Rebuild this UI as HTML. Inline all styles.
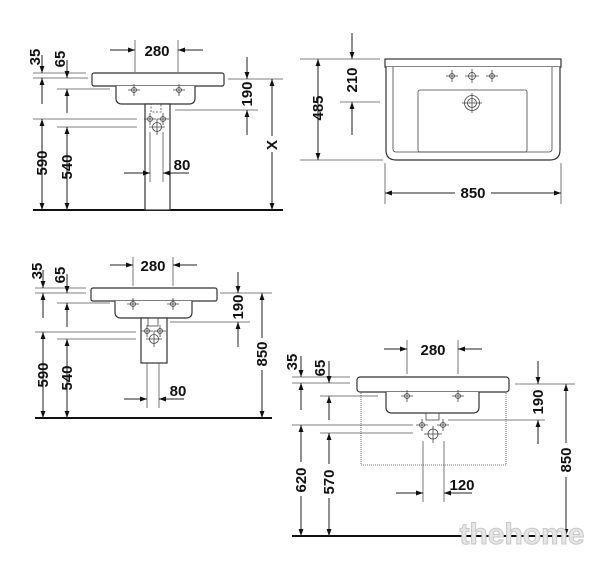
<!DOCTYPE html>
<html><head><meta charset="utf-8"><style>
html,body{margin:0;padding:0;background:#fff}
svg{display:block}
text{font-family:"Liberation Sans Narrow","Liberation Sans",sans-serif;font-weight:bold;font-size:15px;fill:#111}
.d{stroke:#222;stroke-width:1;fill:none}
.e{stroke:#555;stroke-width:0.8;fill:none}
.o{stroke:#333;stroke-width:1.2;fill:#fff}
.f{stroke:#111;stroke-width:2}
.t{stroke:#444;stroke-width:0.8;fill:none}
</style></head><body>
<svg width="600" height="564" viewBox="0 0 600 564" xmlns="http://www.w3.org/2000/svg">
<defs>
<marker id="a" viewBox="0 0 10 10" refX="10" refY="5" markerWidth="7" markerHeight="7" orient="auto-start-reverse" markerUnits="userSpaceOnUse"><path d="M0,1.5L10,5L0,8.5z" fill="#111"/></marker>
<g id="tap"><circle r="2.5" class="t"/><path d="M-6,0H6M0,-6V6" class="t"/></g>
</defs>

<!-- ===== Drawing 1 ===== -->
<line x1="33" y1="210" x2="283" y2="210" class="f"/>
<rect x="92" y="73" width="132" height="13" rx="2" class="o"/>
<path d="M116,86 V98 Q116,104 122,104 H189 Q195,104 195,98 V86" class="o"/>
<rect x="145" y="104" width="25" height="106" class="o" stroke-width="1"/>
<rect x="151" y="104" width="10" height="8" class="t" stroke-dasharray="2,1.5"/>
<use href="#tap" x="150" y="119"/><use href="#tap" x="163" y="119"/>
<circle cx="157" cy="127" r="4.5" class="t"/><path d="M149,127H165M157,119V135" class="t"/>
<use href="#tap" x="134" y="90"/><use href="#tap" x="179" y="90"/>
<line x1="135" y1="40" x2="135" y2="72" class="e"/><line x1="178" y1="40" x2="178" y2="72" class="e"/>
<line x1="110" y1="50" x2="135" y2="50" class="d" marker-end="url(#a)"/>
<line x1="203" y1="50" x2="178" y2="50" class="d" marker-end="url(#a)"/>
<text x="157" y="56" text-anchor="middle">280</text>
<line x1="33" y1="73" x2="86" y2="73" class="e"/><line x1="33" y1="78" x2="88" y2="78" class="e"/>
<line x1="57" y1="89" x2="110" y2="89" class="e"/>
<line x1="33" y1="119" x2="137" y2="119" class="e"/><line x1="57" y1="127" x2="137" y2="127" class="e"/>
<line x1="42" y1="55" x2="42" y2="73" class="d" marker-end="url(#a)"/>
<line x1="42" y1="104" x2="42" y2="78" class="d" marker-end="url(#a)"/>
<line x1="67" y1="60" x2="67" y2="78" class="d" marker-end="url(#a)"/>
<line x1="67" y1="113" x2="67" y2="89" class="d" marker-end="url(#a)"/>
<line x1="42" y1="119" x2="42" y2="210" class="d" marker-start="url(#a)" marker-end="url(#a)"/>
<line x1="67" y1="127" x2="67" y2="210" class="d" marker-start="url(#a)" marker-end="url(#a)"/>
<text transform="translate(40,57) rotate(-90)" text-anchor="middle">35</text>
<text transform="translate(65,59) rotate(-90)" text-anchor="middle">65</text>
<text transform="translate(47,163) rotate(-90)" text-anchor="middle">590</text>
<text transform="translate(72,167) rotate(-90)" text-anchor="middle">540</text>
<line x1="228" y1="79" x2="283" y2="79" class="e"/><line x1="175" y1="110" x2="258" y2="110" class="e"/>
<line x1="247" y1="57" x2="247" y2="79" class="d" marker-end="url(#a)"/>
<line x1="247" y1="135" x2="247" y2="110" class="d" marker-end="url(#a)"/>
<text transform="translate(252,94) rotate(-90)" text-anchor="middle">190</text>
<line x1="272" y1="79" x2="272" y2="210" class="d" marker-start="url(#a)" marker-end="url(#a)"/>
<rect x="266" y="136" width="12" height="16" fill="#fff"/>
<text transform="translate(277,145) rotate(-90)" text-anchor="middle">X</text>
<line x1="150" y1="132" x2="150" y2="182" class="e"/><line x1="163" y1="132" x2="163" y2="182" class="e"/>
<line x1="124" y1="173" x2="150" y2="173" class="d" marker-end="url(#a)"/>
<line x1="189" y1="173" x2="163" y2="173" class="d" marker-end="url(#a)"/>
<text x="182" y="170" text-anchor="middle">80</text>

<!-- ===== Drawing 2 ===== -->
<rect x="385" y="59" width="176" height="8" class="o"/>
<path d="M386,67 V150 Q386,160 396,160 H550 Q560,160 560,150 V67" class="o"/>
<path d="M393,67 V149 Q393,152 396,152 H549 Q552,152 552,149 V67" class="t"/>
<rect x="418" y="90" width="109" height="62" rx="2" class="t"/>
<use href="#tap" x="452" y="76"/><use href="#tap" x="492" y="76"/>
<circle cx="472" cy="76" r="3.5" class="t"/><path d="M465,76H479M472,69V83" class="t"/>
<circle cx="472" cy="103" r="4.5" class="t"/><circle cx="472" cy="103" r="7.5" class="t"/><path d="M462,103H482M472,93V113" class="t"/>
<line x1="300" y1="59" x2="380" y2="59" class="e"/><line x1="300" y1="160" x2="383" y2="160" class="e"/>
<line x1="340" y1="102" x2="380" y2="102" class="e"/>
<line x1="318" y1="59" x2="318" y2="160" class="d" marker-start="url(#a)" marker-end="url(#a)"/>
<text transform="translate(323,108) rotate(-90)" text-anchor="middle">485</text>
<line x1="352" y1="33" x2="352" y2="59" class="d" marker-end="url(#a)"/>
<line x1="352" y1="135" x2="352" y2="102" class="d" marker-end="url(#a)"/>
<text transform="translate(357,80) rotate(-90)" text-anchor="middle">210</text>
<line x1="385" y1="163" x2="385" y2="204" class="e"/><line x1="561" y1="163" x2="561" y2="204" class="e"/>
<line x1="385" y1="193" x2="455" y2="193" class="d" marker-start="url(#a)"/>
<line x1="491" y1="193" x2="561" y2="193" class="d" marker-end="url(#a)"/>
<text x="473" y="198" text-anchor="middle">850</text>

<!-- ===== Drawing 3 ===== -->
<line x1="35" y1="418" x2="272" y2="418" class="f"/>
<rect x="91" y="288" width="126" height="13" rx="2" class="o"/>
<path d="M115,301 V312 Q115,318 121,318 H186 Q192,318 192,312 V301" class="o"/>
<rect x="141" y="318" width="26" height="45" class="o" stroke-width="1"/>
<rect x="148" y="318" width="10" height="8" class="t"/>
<use href="#tap" x="147" y="331"/><use href="#tap" x="160" y="331"/>
<circle cx="154" cy="339" r="4.5" class="t"/><path d="M146,339H162M154,331V347" class="t"/>
<use href="#tap" x="133" y="304"/><use href="#tap" x="173" y="304"/>
<line x1="133" y1="257" x2="133" y2="286" class="e"/><line x1="173" y1="257" x2="173" y2="286" class="e"/>
<line x1="110" y1="265" x2="133" y2="265" class="d" marker-end="url(#a)"/>
<line x1="197" y1="265" x2="173" y2="265" class="d" marker-end="url(#a)"/>
<text x="153" y="271" text-anchor="middle">280</text>
<line x1="35" y1="288" x2="86" y2="288" class="e"/><line x1="35" y1="293" x2="86" y2="293" class="e"/>
<line x1="57" y1="303" x2="110" y2="303" class="e"/>
<line x1="35" y1="332" x2="136" y2="332" class="e"/><line x1="57" y1="339" x2="136" y2="339" class="e"/>
<line x1="43" y1="270" x2="43" y2="288" class="d" marker-end="url(#a)"/>
<line x1="43" y1="318" x2="43" y2="293" class="d" marker-end="url(#a)"/>
<line x1="67" y1="274" x2="67" y2="293" class="d" marker-end="url(#a)"/>
<line x1="67" y1="327" x2="67" y2="303" class="d" marker-end="url(#a)"/>
<line x1="43" y1="332" x2="43" y2="418" class="d" marker-start="url(#a)" marker-end="url(#a)"/>
<line x1="67" y1="339" x2="67" y2="418" class="d" marker-start="url(#a)" marker-end="url(#a)"/>
<text transform="translate(42,271) rotate(-90)" text-anchor="middle">35</text>
<text transform="translate(65,275) rotate(-90)" text-anchor="middle">65</text>
<text transform="translate(48,375) rotate(-90)" text-anchor="middle">590</text>
<text transform="translate(72,378) rotate(-90)" text-anchor="middle">540</text>
<line x1="220" y1="293" x2="272" y2="293" class="e"/><line x1="170" y1="322" x2="250" y2="322" class="e"/>
<line x1="238" y1="272" x2="238" y2="293" class="d" marker-end="url(#a)"/>
<line x1="238" y1="347" x2="238" y2="322" class="d" marker-end="url(#a)"/>
<text transform="translate(243,307) rotate(-90)" text-anchor="middle">190</text>
<line x1="262" y1="293" x2="262" y2="418" class="d" marker-start="url(#a)" marker-end="url(#a)"/>
<rect x="256" y="338" width="12" height="32" fill="#fff"/>
<text transform="translate(267,354) rotate(-90)" text-anchor="middle">850</text>
<line x1="147" y1="363" x2="147" y2="408" class="e"/><line x1="159" y1="363" x2="159" y2="408" class="e"/>
<line x1="124" y1="399" x2="147" y2="399" class="d" marker-end="url(#a)"/>
<line x1="184" y1="399" x2="159" y2="399" class="d" marker-end="url(#a)"/>
<text x="178" y="396" text-anchor="middle">80</text>

<!-- ===== Drawing 4 ===== -->
<line x1="292" y1="536" x2="575" y2="536" class="f"/>
<rect x="361" y="392" width="145" height="73" class="t" stroke-dasharray="1,1" stroke="#888"/>
<rect x="357" y="377" width="152" height="15" rx="3" class="o"/>
<path d="M386,392 V407 Q386,413 392,413 H473 Q479,413 479,407 V392" class="o"/>
<rect x="426" y="413" width="13" height="7" class="t"/>
<use href="#tap" x="407" y="396"/><use href="#tap" x="458" y="396"/>
<use href="#tap" x="422" y="425"/><use href="#tap" x="443" y="425"/>
<circle cx="433" cy="434" r="5" class="t"/><path d="M424,434H442M433,426V443" class="t"/>
<line x1="407" y1="340" x2="407" y2="374" class="e"/><line x1="458" y1="340" x2="458" y2="374" class="e"/>
<line x1="384" y1="349" x2="407" y2="349" class="d" marker-end="url(#a)"/>
<line x1="482" y1="349" x2="458" y2="349" class="d" marker-end="url(#a)"/>
<text x="433" y="355" text-anchor="middle">280</text>
<line x1="292" y1="377" x2="350" y2="377" class="e"/><line x1="292" y1="383" x2="350" y2="383" class="e"/>
<line x1="320" y1="396" x2="378" y2="396" class="e"/>
<line x1="292" y1="425" x2="413" y2="425" class="e"/><line x1="320" y1="433" x2="413" y2="433" class="e"/>
<line x1="301" y1="356" x2="301" y2="377" class="d" marker-end="url(#a)"/>
<line x1="301" y1="410" x2="301" y2="383" class="d" marker-end="url(#a)"/>
<line x1="329" y1="361" x2="329" y2="383" class="d" marker-end="url(#a)"/>
<line x1="329" y1="420" x2="329" y2="396" class="d" marker-end="url(#a)"/>
<line x1="301" y1="425" x2="301" y2="536" class="d" marker-start="url(#a)" marker-end="url(#a)"/>
<line x1="329" y1="433" x2="329" y2="536" class="d" marker-start="url(#a)" marker-end="url(#a)"/>
<rect x="294" y="462" width="14" height="34" fill="#fff"/><rect x="322" y="464" width="14" height="34" fill="#fff"/>
<text transform="translate(297,362) rotate(-90)" text-anchor="middle">35</text>
<text transform="translate(325,368) rotate(-90)" text-anchor="middle">65</text>
<text transform="translate(306,480) rotate(-90)" text-anchor="middle">620</text>
<text transform="translate(334,482) rotate(-90)" text-anchor="middle">570</text>
<line x1="515" y1="384" x2="575" y2="384" class="e"/><line x1="448" y1="420" x2="545" y2="420" class="e"/>
<line x1="538" y1="361" x2="538" y2="384" class="d" marker-end="url(#a)"/>
<line x1="538" y1="444" x2="538" y2="420" class="d" marker-end="url(#a)"/>
<text transform="translate(543,402) rotate(-90)" text-anchor="middle">190</text>
<line x1="566" y1="384" x2="566" y2="536" class="d" marker-start="url(#a)" marker-end="url(#a)"/>
<rect x="560" y="443" width="12" height="34" fill="#fff"/>
<text transform="translate(571,460) rotate(-90)" text-anchor="middle">850</text>
<line x1="423" y1="441" x2="423" y2="502" class="e"/><line x1="444" y1="441" x2="444" y2="502" class="e"/>
<line x1="396" y1="493" x2="423" y2="493" class="d" marker-end="url(#a)"/>
<line x1="472" y1="493" x2="444" y2="493" class="d" marker-end="url(#a)"/>
<text x="462" y="490" text-anchor="middle">120</text>
<text x="522" y="544" text-anchor="middle" style="font-family:'Liberation Sans',sans-serif;font-size:30px;font-weight:bold;fill:#e6e6e6;stroke:#c8c8c8;stroke-width:1">thehome</text>
</svg>
</body></html>
